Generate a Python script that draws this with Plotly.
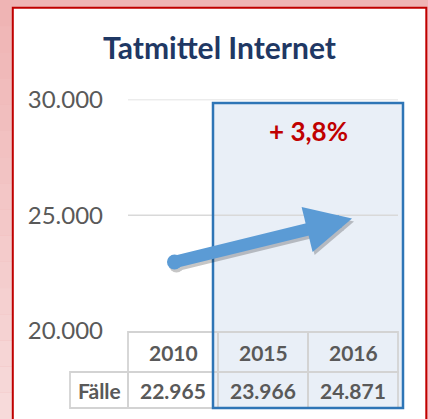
import plotly.graph_objects as go

# ---- data ----
title = "Tatmittel Internet"
years = ["2010", "2015", "2016"]
cases = [22965, 23966, 24871]
row_label = "Fälle"
y_ticks = [20000, 25000, 30000]
grid_vals = [25000, 30000]
highlight = ["2015", "2016"]

# ---- helpers ----
W, H = 428, 419
def px(x): return x / W
def py(y): return 1 - y / H
def de(n): return f"{n:,}".replace(",", ".")

pct = (cases[-1] / cases[-2] - 1) * 100
pct_text = "+ " + f"{pct:.1f}".replace(".", ",") + "%"

FONT = "Lato"
GRAY = "#595959"
LINE = "#d3d3d3"
BLUE = "#5b9bd5"
UNIT = 90.0                     # pixels per category
label_w = 58 / UNIT             # width of the row-label column (in category units)
x_lo = -0.5 - 62 / UNIT
x_hi = 2.5 + 7 / UNIT

xi = {y: i for i, y in enumerate(years)}

fig = go.Figure()
fig.add_trace(go.Scatter(x=list(range(len(years))), y=cases, mode="markers",
                         marker=dict(opacity=0), hoverinfo="skip", showlegend=False))

shapes = []
# outer pink gradient strip on the left
n = 16
c0, c1 = (0xEF, 0xB4, 0xB4), (0xF7, 0xDA, 0xDA)
for k in range(n):
    t = k / (n - 1)
    col = "rgb(%d,%d,%d)" % tuple(round(a + (b - a) * t) for a, b in zip(c0, c1))
    shapes.append(dict(type="rect", xref="paper", yref="paper", layer="below",
                       x0=0, x1=px(12.8), y0=py((k + 1) * H / n), y1=py(k * H / n),
                       fillcolor=col, line=dict(width=0)))
# white panel with red frame
shapes.append(dict(type="rect", xref="paper", yref="paper", layer="below",
                   x0=px(12.8), x1=px(426.3), y0=py(430), y1=py(7.8),
                   fillcolor="white", line=dict(color="#c00000", width=2)))
# highlight box fill
hx0 = xi[highlight[0]] - 0.5 - 5 / UNIT
hx1 = xi[highlight[-1]] + 0.5 + 5 / UNIT
shapes.append(dict(type="rect", xref="x", yref="paper", layer="below",
                   x0=hx0, x1=hx1, y0=py(408), y1=py(103),
                   fillcolor="#e9eff7", line=dict(width=0)))
# gridlines
for v in grid_vals:
    shapes.append(dict(type="line", xref="x", yref="y", layer="below",
                       x0=-0.5, x1=len(years) - 0.5, y0=v, y1=v,
                       line=dict(color="#d9d9d9", width=1.5)))
# table cells
hdr_top, hdr_bot, row_bot = 332, 372, 408
for i in range(len(years)):
    shapes.append(dict(type="rect", xref="x", yref="paper", layer="below",
                       x0=i - 0.5, x1=i + 0.5, y0=py(hdr_bot), y1=py(hdr_top),
                       line=dict(color=LINE, width=1.8)))
    shapes.append(dict(type="rect", xref="x", yref="paper", layer="below",
                       x0=i - 0.5, x1=i + 0.5, y0=py(row_bot), y1=py(hdr_bot),
                       line=dict(color=LINE, width=1.8)))
shapes.append(dict(type="rect", xref="x", yref="paper", layer="below",
                   x0=-0.5 - label_w, x1=-0.5, y0=py(row_bot), y1=py(hdr_bot),
                   line=dict(color=LINE, width=1.8)))
# highlight box outline
shapes.append(dict(type="rect", xref="x", yref="paper", layer="above",
                   x0=hx0, x1=hx1, y0=py(408), y1=py(103),
                   line=dict(color="#2e75b6", width=2.5)))

ann = []
# arrow shadow + arrow (from first to last value)
aw, asz = 12.5, 0.74
for col, dx, dy in [("rgba(0,0,0,0.22)", 2, -3), (BLUE, 0, 0)]:
    ann.append(dict(x=len(years) - 1, y=cases[-1], xref="x", yref="y",
                    ax=0, ay=cases[0], axref="x", ayref="y", text="",
                    showarrow=True, arrowhead=2, arrowsize=asz, arrowwidth=aw,
                    arrowcolor=col, standoff=1,
                    arrowside="end+start", startarrowhead=6, startarrowsize=0.3,
                    xshift=dx, yshift=dy))
# percent change
ann.append(dict(x=(xi[highlight[0]] + xi[highlight[-1]]) / 2, y=py(131),
                xref="x", yref="paper", xanchor="center", yanchor="middle",
                text=pct_text, showarrow=False,
                font=dict(family=FONT, size=26, color="#c00000", weight="bold")))
# table text
tfont = dict(family=FONT, size=21, color=GRAY, weight="bold")
for i, (yr, v) in enumerate(zip(years, cases)):
    ann.append(dict(x=i, y=py((hdr_top + hdr_bot) / 2), xref="x", yref="paper",
                    xanchor="center", yanchor="middle",
                    text=yr, showarrow=False, font=tfont))
    ann.append(dict(x=i, y=py((hdr_bot + row_bot) / 2), xref="x", yref="paper",
                    xanchor="center", yanchor="middle",
                    text=de(v), showarrow=False, font=tfont))
ann.append(dict(x=-0.5 - label_w / 2, y=py((hdr_bot + row_bot) / 2), xref="x",
                yref="paper", xanchor="center", yanchor="middle",
                text=row_label, showarrow=False, font=tfont))

fig.update_layout(
    width=W, height=H, autosize=False,
    margin=dict(l=0, r=0, t=0, b=0, pad=0, autoexpand=False),
    paper_bgcolor="#efb5b5", plot_bgcolor="rgba(0,0,0,0)",
    title=dict(text=title, x=px(219.5), xref="paper", xanchor="center",
               y=py(48), yref="container", yanchor="middle", automargin=False,
               font=dict(family=FONT, size=30, color="#1f3864", weight="bold")),
    xaxis=dict(domain=[px(66), px(405)], range=[x_lo, x_hi], visible=False,
               fixedrange=True, automargin=False),
    yaxis=dict(domain=[py(331), py(99.5)], range=[20000, 30000],
               anchor="free", position=px(128), automargin=False,
               tickvals=y_ticks, ticktext=[de(v) for v in y_ticks],
               ticks="", ticklabelstandoff=25, showgrid=False, zeroline=False,
               showline=False, fixedrange=True,
               tickfont=dict(family=FONT, size=24, color=GRAY)),
    shapes=shapes, annotations=ann, showlegend=False,
)

fig.write_html("out.html", config={"displayModeBar": False},
               post_script="document.body.style.margin='0px';")
